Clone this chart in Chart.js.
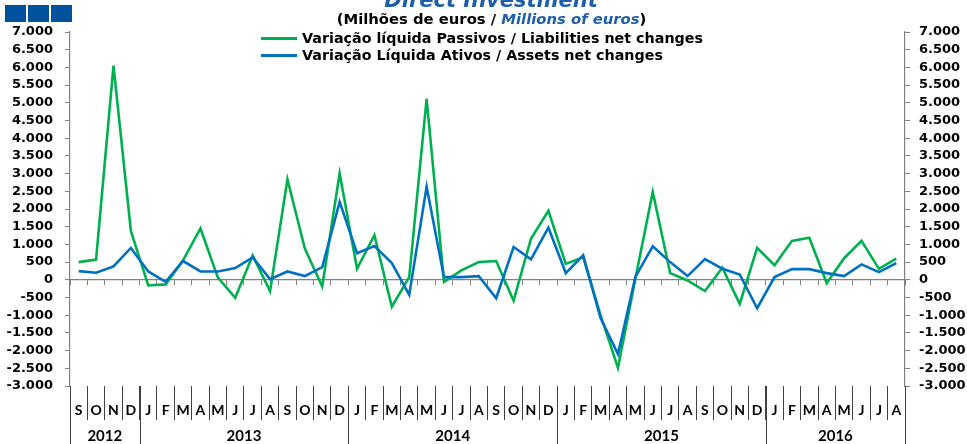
<!DOCTYPE html>
<html>
<head>
<meta charset="utf-8">
<script src="https://cdn.jsdelivr.net/npm/chart.js@4.4.1/dist/chart.umd.min.js"></script>
<style>
  html, body { margin:0; padding:0; background:#fff; }
  #wrap { position:relative; width:967px; height:444px; overflow:hidden; background:#fff; }
  #c { position:absolute; left:0; top:0; }
  .sq { position:absolute; top:5px; width:21px; height:17px; background:#00529C; }
  .txt { position:absolute; font-family:"DejaVu Sans", sans-serif; font-weight:bold; white-space:nowrap; color:#000; }
  #title { left:0; width:982px; text-align:center; top:-10px; font-size:21px; line-height:21px; font-style:italic; color:#1F5FA8; }
  #sub { left:0; width:983px; text-align:center; top:10px; font-size:14.8px; line-height:18px; }
  #sub i { color:#1F5FA8; }
  .lg { position:absolute; left:261px; width:36px; height:3px; }
  .lt { left:302px; font-size:14.3px; line-height:16px; }
</style>
</head>
<body>
<div id="wrap">
  <canvas id="c" width="967" height="444"></canvas>
  <div class="sq" style="left:5px"></div>
  <div class="sq" style="left:28px"></div>
  <div class="sq" style="left:51px"></div>
  <div id="title" class="txt">Direct Investment</div>
  <div id="sub" class="txt">(Milhões de euros / <i>Millions of euros</i>)</div>
  <div class="lg" style="top:37px;background:#00B050"></div>
  <div class="txt lt" style="top:30px">Variação líquida Passivos / Liabilities net changes</div>
  <div class="lg" style="top:54px;background:#0070C0"></div>
  <div class="txt lt" style="top:47px">Variação Líquida Ativos / Assets net changes</div>
</div>
<script>
// ---- data ----
const monthLabels = ['S','O','N','D',
  'J','F','M','A','M','J','J','A','S','O','N','D',
  'J','F','M','A','M','J','J','A','S','O','N','D',
  'J','F','M','A','M','J','J','A','S','O','N','D',
  'J','F','M','A','M','J','J','A'];
const years = ['2012','2013','2014','2015','2016'];
const monthsPerYear = [4,12,12,12,8];

const liabilities = [500,570,6050,1380,
  -160,-130,550,1450,60,-510,690,-320,2840,880,-190,3010,
  310,1260,-760,75,5110,-60,265,500,530,-590,1160,1950,
  450,640,-1000,-2490,30,2480,190,-20,-320,340,-680,900,
  410,1100,1190,-95,610,1100,310,600];
const assets = [245,200,380,900,
  236,-60,530,236,236,330,630,20,236,104,360,2200,
  750,955,472,-425,2630,75,75,104,-520,926,576,1474,
  190,690,-1080,-2100,80,945,500,104,586,312,150,-803,
  76,302,302,189,104,435,217,472];

const yMin = -3000, yMax = 7000, yStep = 500;
const seriesNames = ['Variação líquida Passivos / Liabilities net changes',
                     'Variação Líquida Ativos / Assets net changes'];

function fmt(v){
  const s = Math.abs(v).toString().replace(/\B(?=(\d{3})+(?!\d))/g,'.');
  return (v < 0 ? '-' : '') + s;
}

const yearPlugin = {
  id:'years',
  afterDraw(chart){
    const xs = chart.scales.x, ctx = chart.ctx;
    const top = chart.chartArea.bottom, bottom = chart.height;
    ctx.save();
    ctx.strokeStyle = '#404040'; ctx.lineWidth = 1;
    ctx.fillStyle = '#000';
    ctx.font = 'bold 15px Lato, "Liberation Sans", sans-serif';
    ctx.textAlign = 'center'; ctx.textBaseline = 'middle';
    let start = 0;
    const bounds = [Math.round(xs.getPixelForValue(-0.5)) + 0.5];
    years.forEach((y, k) => {
      const end = start + monthsPerYear[k];
      const x0 = xs.getPixelForValue(start - 0.5);
      const x1 = xs.getPixelForValue(end - 0.5);
      bounds.push(Math.round(x1) + 0.5);
      ctx.fillText(y, (x0 + x1) / 2, 436);
      start = end;
    });
    ctx.beginPath();
    bounds.forEach(b => { ctx.moveTo(b, top); ctx.lineTo(b, bottom); });
    ctx.stroke();
    ctx.restore();
  }
};

const tickFont = {family:'"DejaVu Sans", sans-serif', weight:'bold', size:13};

new Chart(document.getElementById('c'), {
  type:'line',
  data:{
    labels: monthLabels,
    datasets:[
      {label:seriesNames[0], data:liabilities, borderColor:'#00B050', backgroundColor:'#00B050',
       borderWidth:2.6, pointRadius:0, tension:0, fill:false, order:2, yAxisID:'y', xAxisID:'x'},
      {label:seriesNames[1], data:assets, borderColor:'#0070C0', backgroundColor:'#0070C0',
       borderWidth:2.6, pointRadius:0, tension:0, fill:false, order:1, yAxisID:'y', xAxisID:'x'}
    ]
  },
  options:{
    responsive:false, animation:false, devicePixelRatio:1,
    layout:{padding:{top:32, left:0, right:0, bottom:0}},
    plugins:{legend:{display:false}, tooltip:{enabled:false}, title:{display:false}},
    scales:{
      x:{
        type:'category', position:'bottom', offset:true,
        grid:{display:true, drawOnChartArea:false, drawTicks:true, tickLength:34, offset:true, color:'#404040', lineWidth:1},
        border:{display:false},
        ticks:{autoSkip:false, maxRotation:0, minRotation:0, padding:-18, color:'#000',
               font:{family:'Lato, "Liberation Sans", sans-serif', weight:'bold', size:14}},
        afterFit(s){ s.height = 58; }
      },
      xZero:{
        type:'category', axis:'x', position:{y:0}, offset:true,
        grid:{display:true, drawOnChartArea:false, drawTicks:true, tickLength:5, offset:true, color:'#808080', lineWidth:1},
        border:{display:true, color:'#808080', width:1.2},
        ticks:{display:false}
      },
      y:{
        type:'linear', position:'left', min:yMin, max:yMax,
        grid:{display:true, drawOnChartArea:false, drawTicks:true, tickLength:5, color:'#808080'},
        border:{display:true, color:'#808080', width:1.2},
        ticks:{stepSize:yStep, autoSkip:false, padding:12, color:'#000', font:tickFont, callback:v=>fmt(v)},
        afterFit(s){ s.width = 70; }
      },
      y2:{
        type:'linear', position:'right', min:yMin, max:yMax,
        grid:{display:true, drawOnChartArea:false, drawTicks:true, tickLength:5, color:'#808080'},
        border:{display:true, color:'#808080', width:1.2},
        ticks:{stepSize:yStep, autoSkip:false, padding:9, color:'#000', font:tickFont, callback:v=>fmt(v)},
        afterFit(s){ s.width = 62; }
      }
    }
  },
  plugins:[yearPlugin]
});
</script>
</body>
</html>
